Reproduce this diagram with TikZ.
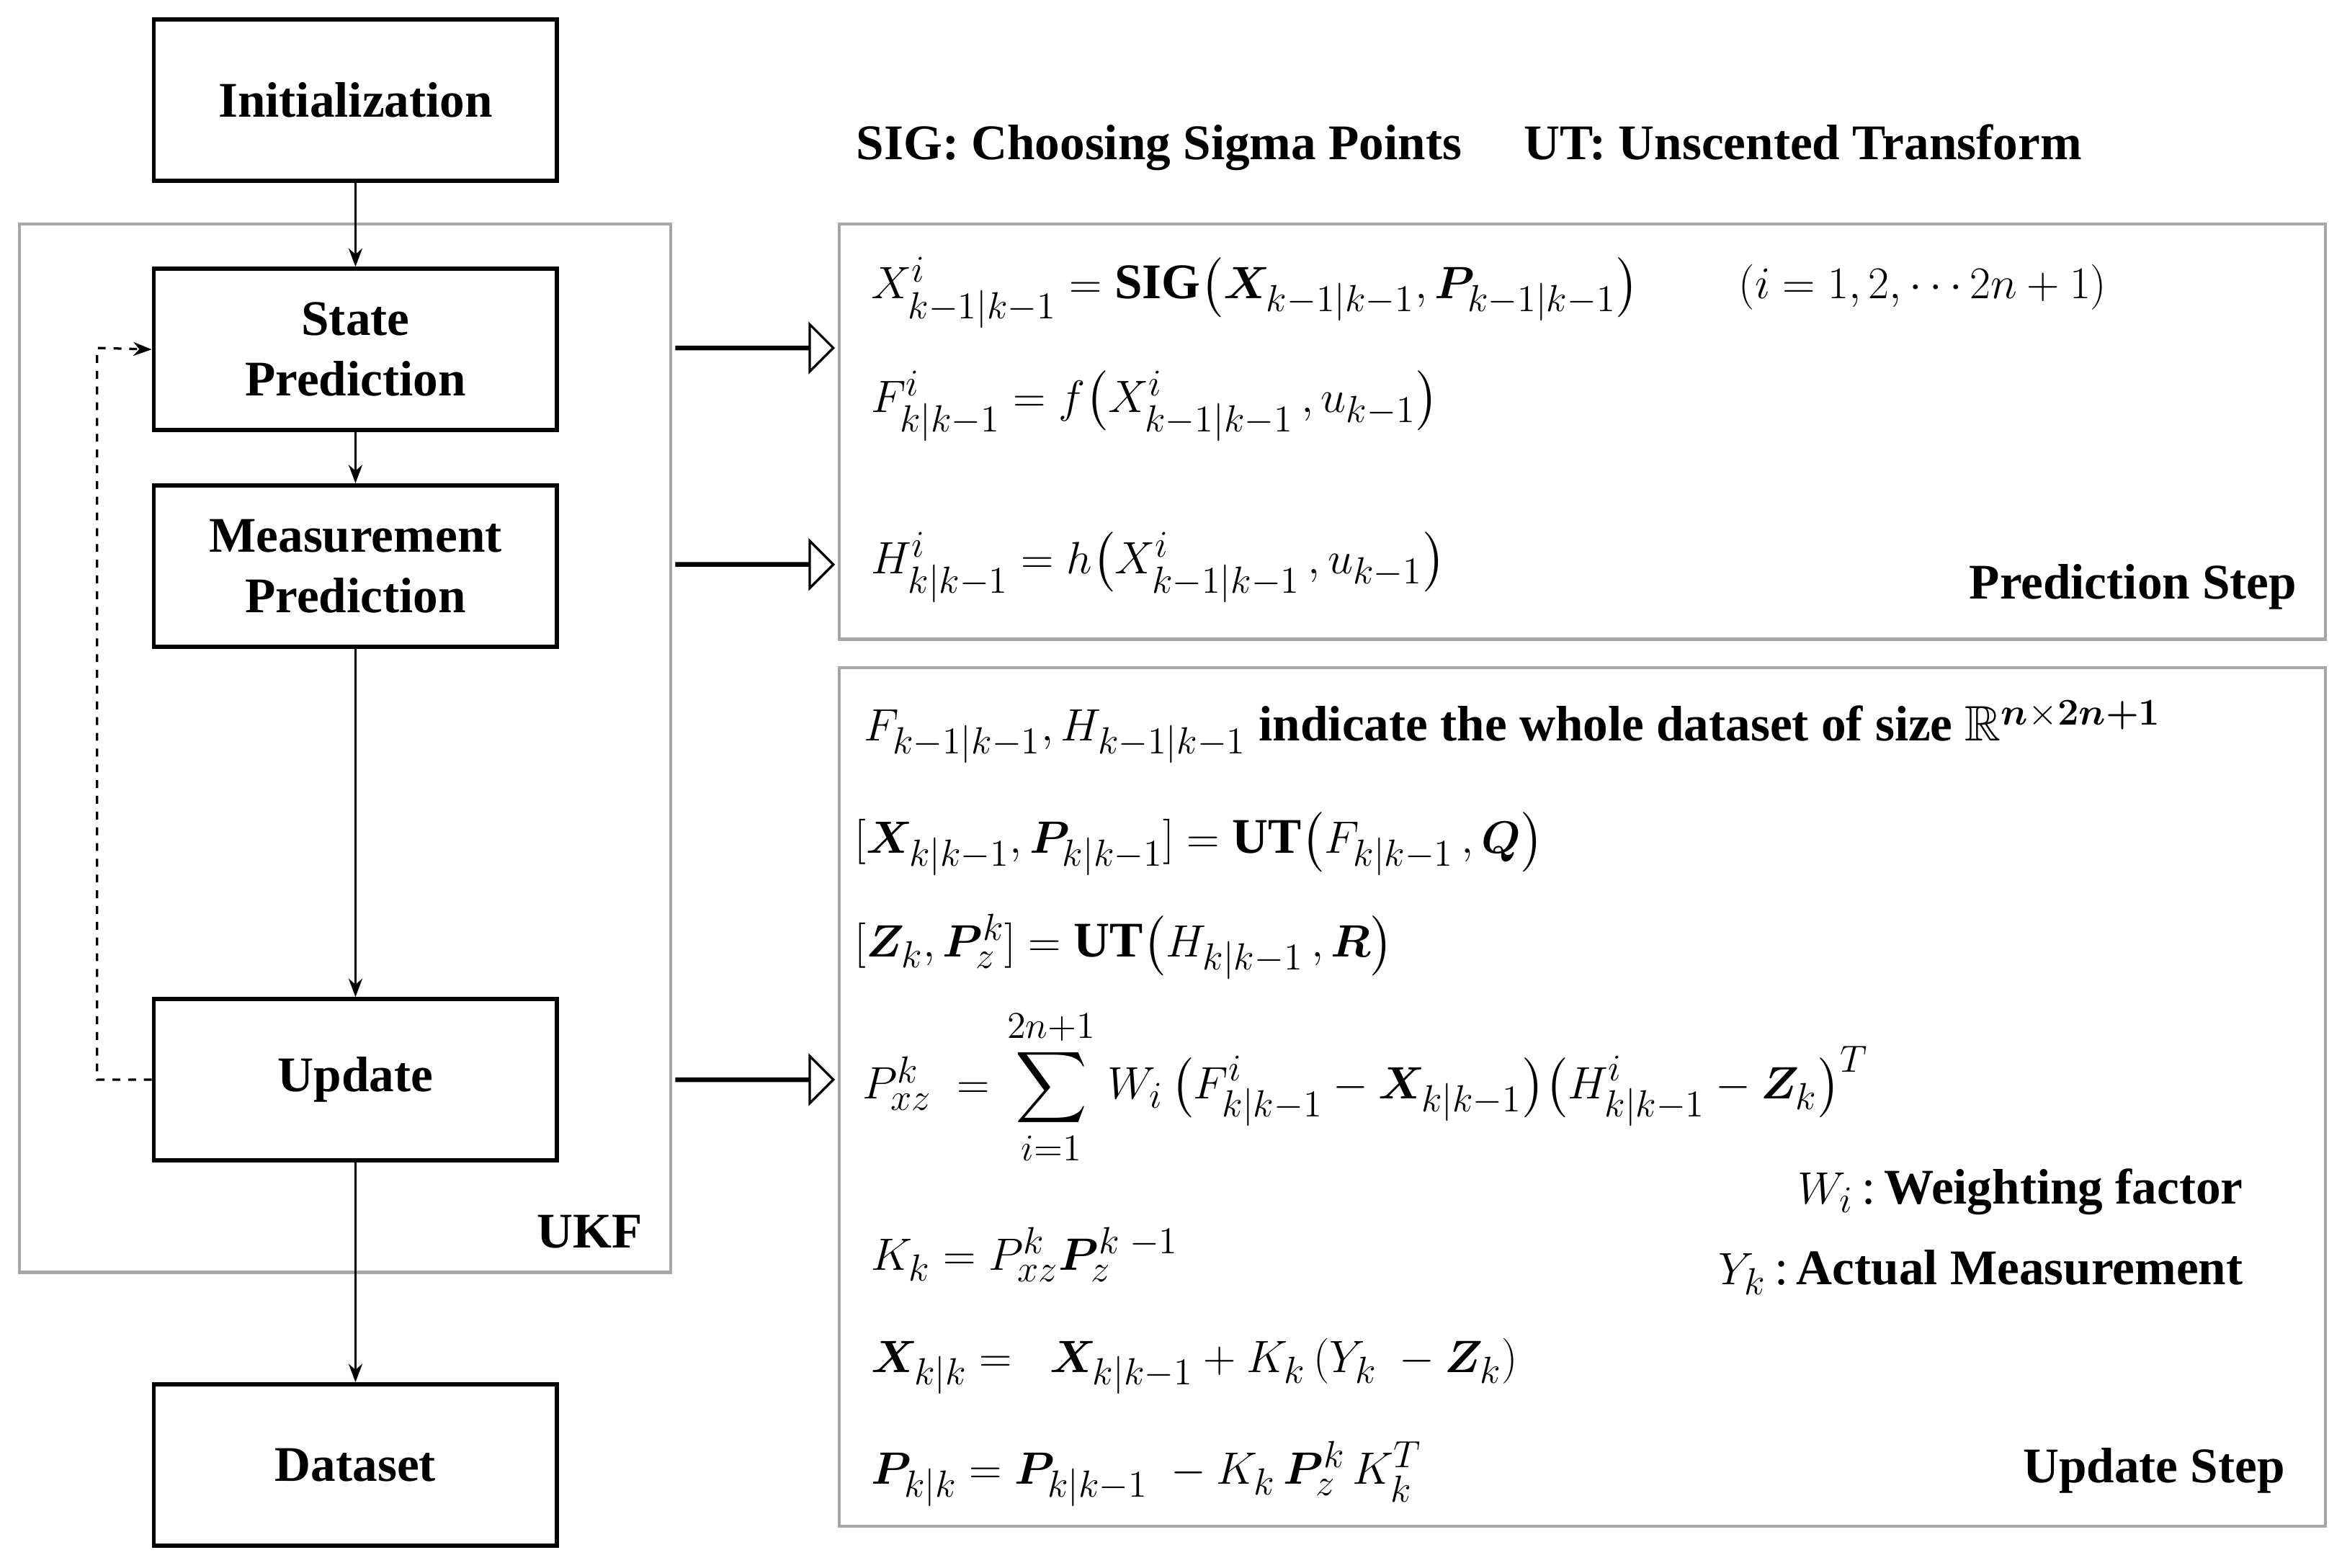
\documentclass[tikz,border=0pt]{standalone}
\usepackage{amsmath,amssymb,bm,mathtools}
\usepackage{fontspec}
\setmainfont{Liberation Serif}
\usetikzlibrary{arrows.meta,shapes.arrows}
\begin{document}
\begin{tikzpicture}[x=0.02cm,y=-0.02cm,
  box/.style={draw,line width=1.6pt,minimum width=270*0.02cm,minimum height=108*0.02cm,align=center,font=\fontsize{19}{23}\selectfont\bfseries},
  panel/.style={draw=gray!70,line width=1.2pt},
  arr/.style={-{Stealth[length=7pt]},line width=0.9pt},
  barrow/.style={single arrow,draw,line width=0.9pt,minimum height=105*0.02cm,minimum width=30*0.02cm,single arrow head extend=15*0.02cm,inner sep=0pt,single arrow tip angle=90},
  eq/.style={anchor=west,font=\fontsize{19}{23}\selectfont,inner sep=0pt},
  lbl/.style={font=\fontsize{19}{23}\selectfont\bfseries,inner sep=0pt}]
\useasboundingbox (0,0) rectangle (1568,1050);
\draw[panel] (13,150) rectangle (449,852);
\draw[panel] (562,150) rectangle (1557,428);
\draw[panel] (562,447) rectangle (1557,1022);
\node[box] (init) at (238,67) {Initialization};
\node[box] (state) at (238,234) {State\\Prediction};
\node[box] (meas) at (238,379) {Measurement\\Prediction};
\node[box] (upd) at (238,723) {Update};
\node[box] (data) at (238,981) {Dataset};
\draw[arr] (init) -- (state);
\draw[arr] (state) -- (meas);
\draw[arr] (meas) -- (upd);
\draw[arr] (upd) -- (data);
\coordinate (d1) at (65,723); \coordinate (d2) at (65,233);
\draw[arr,dashed] (upd.west) -- (d1) -- (d2) -- (state.west);
\node[lbl] (ukf) at (395,825) {UKF};
\node[barrow] (a1) at (505,233) {};
\node[barrow] (a2) at (505,378) {};
\node[barrow] (a3) at (505,723) {};
\node[lbl,anchor=west] (title) at (573,99) {SIG: Choosing Sigma Points\quad\ UT: Unscented Transform};
\node[eq] (e1) at (583,196) {$X^i_{k-1|k-1}=\mathbf{SIG}\big(\bm{X}_{k-1|k-1},\bm{P}_{k-1|k-1}\big)\qquad(i=1,2,\cdots 2n+1)$};
\node[eq] (e2) at (583,272) {$F^i_{k|k-1}=f\big(X^i_{k-1|k-1}\,,u_{k-1}\big)$};
\node[eq] (e3) at (583,380) {$H^i_{k|k-1}=h\big(X^i_{k-1|k-1}\,,u_{k-1}\big)$};
\node[lbl,anchor=east] (ps) at (1538,393) {Prediction Step};
\node[eq] (e4) at (578,490) {$F_{k-1|k-1},H_{k-1|k-1}$ \textbf{indicate the whole dataset of size} $\mathbb{R}^{\bm{n}\times\bm{2n+1}}$};
\node[eq] (e5) at (572,565) {$[\bm{X}_{k|k-1},\bm{P}_{k|k-1}]=\mathbf{UT}\big(F_{k|k-1}\,,\bm{Q}\big)$};
\node[eq] (e6) at (572,634) {$[\bm{Z}_k,\bm{P}^k_z]=\mathbf{UT}\big(H_{k|k-1}\,,\bm{R}\big)$};
\node[eq] (e7) at (577,728) {$P^k_{xz}\;=\;\displaystyle\sum\limits_{i=1}^{\mathclap{2n+1}}\;W_i\,\big(F^i_{k|k-1}-\bm{X}_{k|k-1}\big)\big(H^i_{k|k-1}-\bm{Z}_k\big)^T$};
\node[eq,anchor=east] (w) at (1502,798) {$W_i$\,:\,\textbf{Weighting factor}};
\node[eq,anchor=east] (y) at (1502,852) {$Y_k$\,:\,\textbf{Actual Measurement}};
\node[eq] (e8) at (583,840) {$K_k=P^k_{xz}\bm{P}^{k\;-1}_z$};
\node[eq] (e9) at (583,915) {$\bm{X}_{k|k}=\ \ \bm{X}_{k|k-1}+K_k\,(Y_k\ -\bm{Z}_k)$};
\node[eq] (e10) at (583,987) {$\bm{P}_{k|k}=\bm{P}_{k|k-1}\ -K_k\,\bm{P}^k_z\,K_k^T$};
\node[lbl,anchor=east] (us) at (1530,985) {Update Step};
\end{tikzpicture}
\end{document}
